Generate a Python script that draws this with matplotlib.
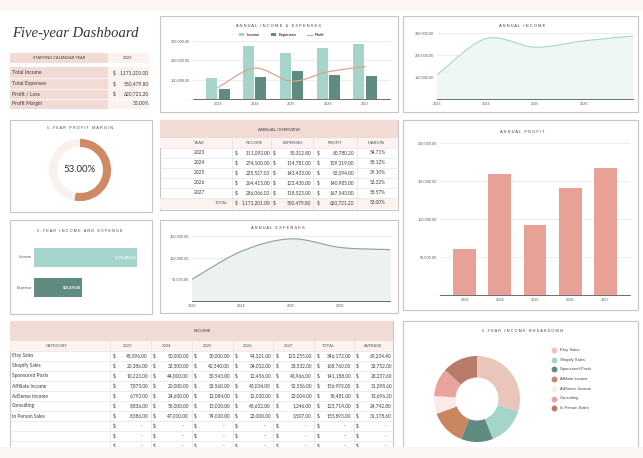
import numpy as np
import matplotlib.pyplot as plt
from matplotlib.patches import Rectangle
from matplotlib.lines import Line2D

W, H = 643, 458

years = ['2023', '2024', '2025', '2026', '2027']
income = [111093.00, 274100.00, 235527.00, 264415.00, 286066.00]
expenses = [50312.80, 114781.00, 143433.00, 123430.00, 118523.00]

categories = ['Etsy Sales', 'Shopify Sales', 'Sponsored Posts', 'Affiliate Income',
              'AdSense Income', 'Consulting', 'In Person Sales']
cat_values = [
    [48596, 50000, 30000, 94321, 123255],
    [20386, 33500, 42340, 34002, 38532],
    [10223, 44000, 30543, 12456, 43966],
    [7873, 20000, 33560, 43004, 52556],
    [6793, 24600, 12084, 12000, 23004],
    [8836, 55000, 13000, 45632, 1246],
    [8386, 47000, 74000, 23000, 3507],
]
cat_colors = ['#e9c6b9', '#a5d4ca', '#5f8b80', '#c9855f', '#fbebe8', '#e9a39c', '#b77b69']

profit = [i - e for i, e in zip(income, expenses)]
margin = [p / i * 100 for p, i in zip(profit, income)]
tot_inc, tot_exp, tot_pro = sum(income), sum(expenses), sum(profit)
tot_margin = tot_pro / tot_inc * 100

# colours
PINK = '#f3dbd5'
LPINK = '#fcf3f1'
CREAM = '#fbf6f3'
BORDER = '#c6c6c6'
DARK = '#3a3a3a'
GREY = '#5a5a5a'
TEAL = '#a5d4ca'
TEAL_D = '#5f8b80'
ORANGE = '#cf8a63'
SALMON = '#e8a197'
LINE = '#dba690'

TFONT = ['Lato', 'DejaVu Sans']
CFONT = ['Liberation Sans', 'DejaVu Sans']

fig = plt.figure(figsize=(6.43, 4.58), dpi=100, facecolor=CREAM)


def rect(x0, y0, x1, y1, fc='white', ec='none', lw=0.8, z=-5):
    fig.add_artist(Rectangle((x0 / W, 1 - y1 / H), (x1 - x0) / W, (y1 - y0) / H,
                             transform=fig.transFigure, fc=fc, ec=ec, lw=lw, zorder=z))


def line(x0, y0, x1, y1, color='#dedede', lw=0.4, z=-2):
    fig.add_artist(Line2D([x0 / W, x1 / W], [1 - y0 / H, 1 - y1 / H],
                          transform=fig.transFigure, color=color, lw=lw, zorder=z))


def txt(x, y, s, size=3.6, ha='left', color=DARK, family=TFONT, **kw):
    fig.text(x / W, 1 - y / H, s, fontsize=size, ha=ha, va='center', color=color,
             family=family, **kw)


def axes(x0, y0, x1, y1):
    ax = fig.add_axes([x0 / W, 1 - y1 / H, (x1 - x0) / W, (y1 - y0) / H])
    ax.set_facecolor('none')
    return ax


def spaced(s):
    return ' '.join(s)


def money(v):
    return f'{v:,.2f}'


def smooth(ys, n=40):
    ys = np.asarray(ys, float)
    k = len(ys)
    m = np.zeros(k)
    m[1:-1] = (ys[2:] - ys[:-2]) / 2
    m[0] = ys[1] - ys[0]
    m[-1] = ys[-1] - ys[-2]
    xo, yo = [], []
    for i in range(k - 1):
        t = np.linspace(0, 1, n, endpoint=(i == k - 2))
        h00 = 2 * t**3 - 3 * t**2 + 1
        h10 = t**3 - 2 * t**2 + t
        h01 = -2 * t**3 + 3 * t**2
        h11 = t**3 - t**2
        yo.append(h00 * ys[i] + h10 * m[i] + h01 * ys[i + 1] + h11 * m[i + 1])
        xo.append(i + t)
    return np.concatenate(xo), np.concatenate(yo)


def style_chart(ax, yticks, zero_dash=False):
    ax.set_yticks(yticks)
    labels = [money(v) for v in yticks]
    if zero_dash and yticks[0] == 0:
        labels[0] = '-'
    ax.set_yticklabels(labels, family=CFONT)
    ax.yaxis.grid(True, color='#e6e6e6', lw=0.5)
    ax.set_axisbelow(True)
    for s in ['top', 'right', 'left']:
        ax.spines[s].set_visible(False)
    ax.spines['bottom'].set_color('#555555')
    ax.spines['bottom'].set_linewidth(0.6)
    ax.tick_params(length=0, labelsize=2.8, colors=GREY, pad=2)
    for lab in ax.get_xticklabels():
        lab.set_family(CFONT)


# page
rect(0, 11, W, 447, fc='white', z=-10)

# panels
for box in [(160, 16, 398, 112), (403, 16, 638, 112), (10, 120, 152, 212),
            (160, 120, 398, 210), (403, 120, 638, 310), (10, 220, 152, 314),
            (160, 220, 398, 313), (10, 321, 393, 460), (403, 321, 638, 460)]:
    rect(*box, fc='white', ec=BORDER, lw=0.8)

# ---- title block
txt(12, 33, 'Five-year Dashboard', size=10.5, family=['Liberation Serif'], style='italic',
    color='#333333')
rect(10, 53, 108, 63, fc=PINK)
rect(108, 53, 149, 63, fc=LPINK)
txt(59, 58, 'STARTING CALENDAR YEAR', size=2.9, ha='center')
txt(128, 58, years[0], size=3.0, ha='center')
rect(10, 67, 108, 109, fc=PINK)
rect(108, 67, 149, 109, fc=LPINK)
summary = [('Total Income', money(tot_inc)), ('Total Expenses', money(tot_exp)),
           ('Profit / Loss', money(tot_pro)), ('Profit Margin', f'{tot_margin:.2f}%')]
for i, (lab, val) in enumerate(summary):
    y = 73 + i * 10.3
    txt(12, y, lab, size=3.7)
    if i < 3:
        txt(113, y, '$', size=3.6)
    txt(149, y, val, size=3.6, ha='right')
    if i:
        line(10, y - 5.1, 149, y - 5.1, color='white', lw=0.6)

# ---- annual income & expenses
txt(278, 26, spaced('ANNUAL INCOME & EXPENSES'), size=2.9, ha='center', color='#444444',
    family=CFONT)
ax = axes(193, 41, 390, 99)
x = np.arange(len(years))
b1 = ax.bar(x - 0.165, income, width=0.3, color=TEAL, label='Income')
b2 = ax.bar(x + 0.165, expenses, width=0.3, color=TEAL_D, label='Expenses')
sx, sy = smooth(profit)
l1, = ax.plot(sx, sy, color=LINE, lw=0.9, label='Profit')
ax.set_xlim(-0.68, 4.68)
ax.set_ylim(0, 300000)
ax.set_xticks(x)
ax.set_xticklabels(years)
style_chart(ax, [0, 100000, 200000, 300000], zero_dash=True)
ax.legend(handles=[b1, b2, l1], loc='lower center', bbox_to_anchor=(0.45, 1.0), ncol=3,
          frameon=False, handlelength=1.2, handleheight=0.8, columnspacing=2.5,
          handletextpad=0.6, prop={'family': CFONT, 'size': 3})

# ---- annual income
txt(522, 26, spaced('ANNUAL INCOME'), size=2.9, ha='center', color='#444444', family=CFONT)
ax = axes(437, 33, 633, 99)
sx, sy = smooth(income)
ax.plot(sx, sy, color='#a9d6cc', lw=0.8)
ax.fill_between(sx, sy, color='#eef7f4')
ax.set_xlim(0, 4)
ax.set_ylim(0, 300000)
ax.set_xticks(x[:4])
ax.set_xticklabels(years[:4])
style_chart(ax, [100000, 200000, 300000])

# ---- 5-year profit margin
txt(80, 128, spaced('5-YEAR PROFIT MARGIN'), size=2.8, ha='center', color='#444444',
    family=CFONT)
ax = axes(47, 138, 113, 202)
ax.pie([tot_margin, 100 - tot_margin], colors=[ORANGE, '#f8f1ee'], startangle=90,
       counterclock=False, wedgeprops=dict(width=0.26))
ax.set_xlim(-1.03, 1.03)
ax.set_ylim(-1.03, 1.03)
ax.set_aspect('equal')
ax.axis('off')
txt(80, 170, f'{tot_margin:.2f}%', size=7, ha='center', color='#2e2e2e')

# ---- annual overview table
rect(160, 120, 398, 138, fc=PINK, z=-4)
txt(279, 130, 'ANNUAL OVERVIEW', size=3.2, ha='center')
rect(160, 138, 398, 148, fc=LPINK, z=-4)
rect(160, 198, 398, 209, fc=LPINK, z=-4)
heads = [('YEAR', 199), ('INCOME', 254), ('EXPENSES', 293), ('PROFIT', 335), ('MARGIN', 376)]
for h, hx in heads:
    txt(hx, 143, h, size=3.1, ha='center', color='#555555')
for i in range(6):
    y = 153 + i * 10
    line(160, y - 5, 398, y - 5)
    if i < 5:
        txt(199, y, years[i], size=3.5, ha='center')
        vals = [income[i], expenses[i], profit[i]]
        m = margin[i]
    else:
        txt(228, y, 'TOTAL', size=3.0, ha='right', color='#555555')
        vals = [tot_inc, tot_exp, tot_pro]
        m = tot_margin
    for v, dx, rx in zip(vals, [235, 273, 317], [270, 311, 354]):
        txt(dx, y, '$', size=3.4)
        txt(rx, y, money(v), size=3.4, ha='right')
    txt(386, y, f'{m:.2f}%', size=3.4, ha='right')
for vx in [232, 271, 313, 357]:
    line(vx, 138, vx, 209)

# ---- annual profit
txt(522, 132, spaced('ANNUAL PROFIT'), size=2.9, ha='center', color='#444444', family=CFONT)
ax = axes(440, 143, 630, 295)
ax.bar(x, profit, width=0.65, color=SALMON)
ax.set_xlim(-0.7, 4.7)
ax.set_ylim(0, 200000)
ax.set_xticks(x)
ax.set_xticklabels(years)
style_chart(ax, [0, 50000, 100000, 150000, 200000], zero_dash=True)

# ---- 5-year income and expense
txt(80, 231, spaced('5-YEAR INCOME AND EXPENSE'), size=2.8, ha='center', color='#444444',
    family=CFONT)
ax = axes(34, 242.5, 145, 302.5)
totals = [tot_inc, tot_exp]
ax.barh([1, 0], totals, height=0.63, color=[TEAL, TEAL_D])
ax.set_xlim(0, 1262000)
ax.set_ylim(-0.5, 1.5)
ax.axis('off')
for yy, v in zip([1, 0], totals):
    ax.text(v - 12000, yy, money(v), ha='right', va='center', color='white', fontsize=2.6,
            fontweight='bold', family=CFONT)
txt(32, 257.5, 'Income', size=2.9, ha='right', color=GREY, family=CFONT)
txt(32, 287.5, 'Expense', size=2.9, ha='right', color=GREY, family=CFONT)

# ---- annual expenses
txt(278, 228, spaced('ANNUAL EXPENSES'), size=2.9, ha='center', color='#444444', family=CFONT)
ax = axes(192, 236, 390, 301)
sx, sy = smooth(expenses)
ax.plot(sx, sy, color='#8aa19d', lw=0.8)
ax.fill_between(sx, sy, color='#eef1f1')
ax.set_xlim(0, 4)
ax.set_ylim(0, 150000)
ax.set_xticks(x[:4])
ax.set_xticklabels(years[:4])
style_chart(ax, [50000, 100000, 150000])

# ---- income table
rect(10, 321, 393, 341, fc=PINK, z=-4)
txt(202, 331, 'INCOME', size=3.2, ha='center')
rect(10, 341, 393, 351, fc=LPINK, z=-4)
col_heads = ['CATEGORY'] + years + ['TOTAL', 'AVERAGE']
col_cx = [57, 128, 167, 208, 248, 289, 328, 373]
for h, hx in zip(col_heads, col_cx):
    txt(hx, 346, h, size=3.0, ha='center', color='#555555')
dollar_x = [113, 153, 194, 235, 276, 317, 356]
right_x = [148, 189, 230, 271, 312, 351, 392]
for r in range(len(categories) + 3):
    y = 356 + r * 10
    line(10, y - 5, 393, y - 5)
    if r < len(categories):
        row = cat_values[r]
        txt(12, y, categories[r], size=3.5)
        cells = [money(v) for v in row] + [money(sum(row)), money(sum(row) / len(row))]
    else:
        cells = ['-'] * 7
    for c, dx, rx in zip(cells, dollar_x, right_x):
        txt(dx, y, '$', size=3.4)
        txt(rx - (6 if c == '-' else 0), y, c, size=3.4, ha='right')
for vx in [110, 151, 192, 233, 273, 314, 354]:
    line(vx, 341, vx, 460)

# ---- 5-year income breakdown
txt(522, 331, spaced('5-YEAR INCOME BREAKDOWN'), size=2.8, ha='center', color='#444444',
    family=CFONT)
ax = axes(434, 356, 520, 442)
ax.pie([sum(v) for v in cat_values], colors=cat_colors, startangle=90, counterclock=False,
       wedgeprops=dict(width=0.5))
ax.set_xlim(-1, 1)
ax.set_ylim(-1, 1)
ax.set_aspect('equal')
ax.axis('off')
for i, (c, col) in enumerate(zip(categories, cat_colors)):
    y = 350 + i * 9.7
    fig.add_artist(Line2D([554 / W], [1 - y / H], transform=fig.transFigure, marker='o',
                          markersize=3.2, color=col, lw=0))
    txt(560, y, c, size=3.0, color='#444444', family=CFONT)

# bottom band
rect(0, 447, W, H, fc=CREAM, z=10)

fig.savefig('out.png', dpi=100, facecolor=fig.get_facecolor())
